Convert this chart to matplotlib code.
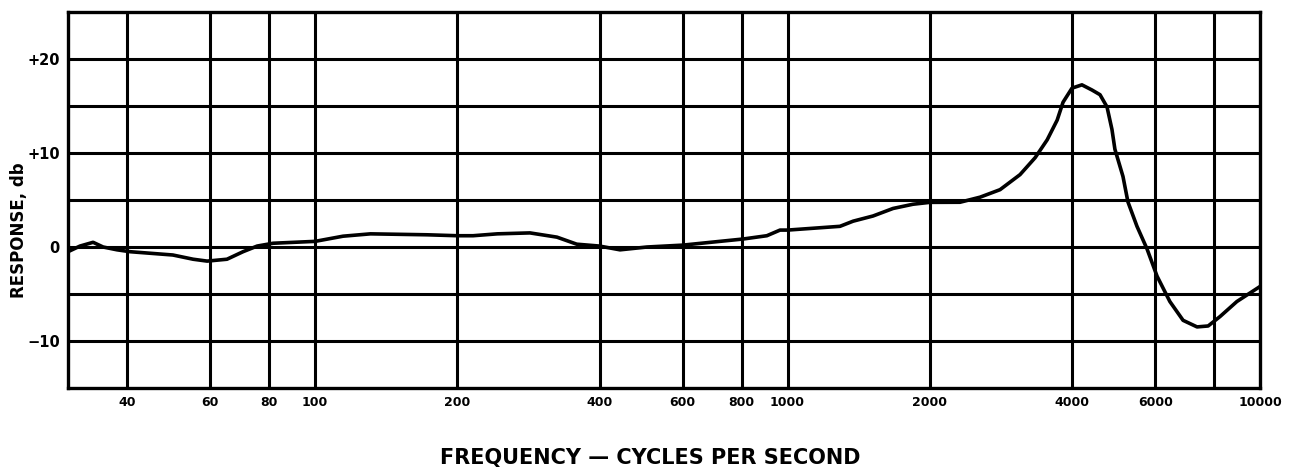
import numpy as np
import matplotlib.pyplot as plt

# frequency response
freq = [30, 31.8, 33.9, 35.6, 38.1, 40.6, 50, 55.2, 59.1, 65.1, 70.4, 75.4, 81.5, 100,
        114.6, 131, 172.5, 200, 216, 243, 285, 325, 358, 400, 442, 504, 600, 805, 904,
        964, 1000, 1291, 1377, 1517, 1672, 1843, 2000, 2317, 2555, 2817, 3105, 3342,
        3544, 3721, 3829, 4000, 4198, 4409, 4585, 4744, 4860, 4930, 5128, 5253, 5490,
        5765, 6054, 6444, 6873, 7357, 7766, 8228, 8933, 10000]
response = [-0.5, 0.1, 0.5, 0.0, -0.3, -0.5, -0.85, -1.3, -1.5, -1.3, -0.5, 0.1, 0.4, 0.6,
            1.15, 1.4, 1.3, 1.2, 1.2, 1.4, 1.5, 1.05, 0.3, 0.1, -0.3, 0.0, 0.2, 0.85, 1.2,
            1.8, 1.8, 2.2, 2.75, 3.3, 4.1, 4.55, 4.75, 4.76, 5.3, 6.1, 7.7, 9.5,
            11.4, 13.5, 15.4, 16.9, 17.25, 16.7, 16.2, 14.9, 12.5, 10.4, 7.5, 4.8, 2.2,
            -0.2, -3.1, -5.8, -7.8, -8.5, -8.4, -7.4, -5.8, -4.2]

grid_freqs = [40, 60, 80, 100, 200, 400, 600, 800, 1000, 2000, 4000, 6000, 8000]
x_ticks = [40, 60, 80, 100, 200, 400, 600, 800, 1000, 2000, 4000, 6000, 10000]
x_labels = ['40', '60', '80', '100', '200', '400', '600', '800', '1000', '2000',
            '4000', '6000', '10000']
y_ticks = [20, 10, 0, -10]
y_labels = ['+20', '+10', '0', '\u221210']

fig = plt.figure(figsize=(12.93, 4.74), dpi=100)
ax = fig.add_axes([0.0526, 0.1814, 0.9219, 0.7933])

ax.set_xscale('log')
ax.set_xlim(30, 10000)
ax.set_ylim(-15, 25)

for f in grid_freqs:
    ax.axvline(f, color='black', lw=2.2, zorder=1)
for y in np.arange(-10, 25, 5):
    ax.axhline(y, color='black', lw=2.2, zorder=1)

ax.plot(freq, response, color='black', lw=2.6, zorder=2,
        solid_capstyle='round', solid_joinstyle='round')

ax.xaxis.set_minor_locator(plt.NullLocator())
ax.set_xticks(x_ticks)
ax.set_xticklabels(x_labels, fontsize=9, fontweight='bold')
ax.set_yticks(y_ticks)
ax.set_yticklabels(y_labels, fontsize=10.5, fontweight='bold')
ax.tick_params(length=0, pad=6)

for s in ax.spines.values():
    s.set_linewidth(2.4)

# y label sits a bit below the axes centre in the original
fig.text(0.0145, 0.515, 'RESPONSE, db', rotation=90, ha='center', va='center',
         fontsize=12, fontweight='bold')
fig.text(0.503, 0.034, 'FREQUENCY \u2014 CYCLES PER SECOND', ha='center', va='center',
         fontsize=15, fontweight='bold')

fig.savefig('out.png', dpi=100)
